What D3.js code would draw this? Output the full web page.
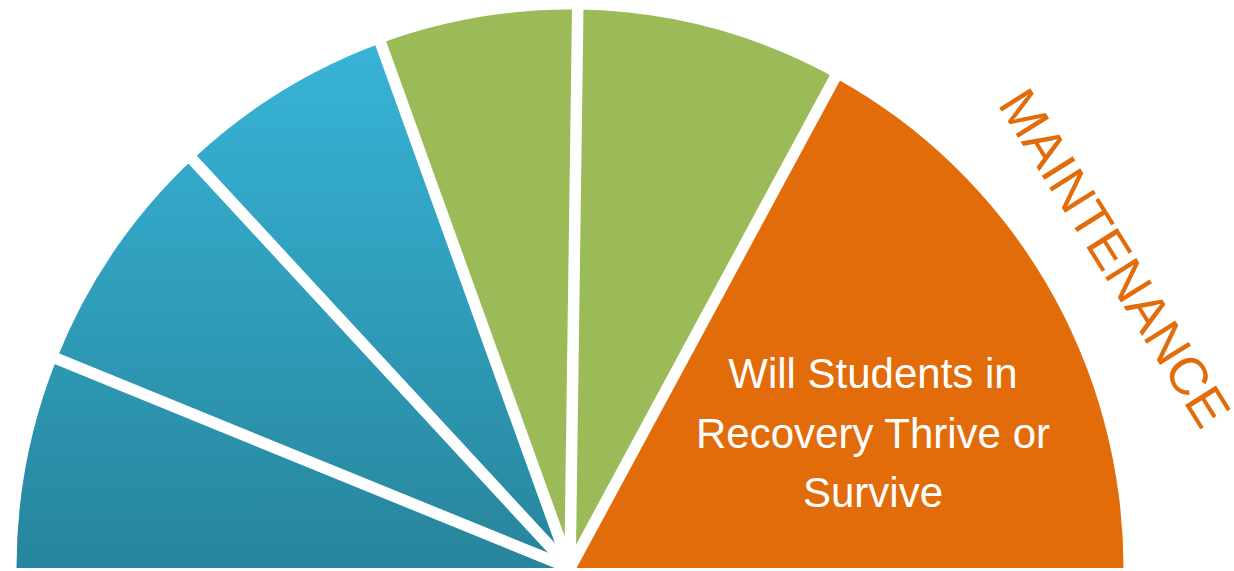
<!DOCTYPE html>
<html>
<head>
<meta charset="utf-8">
<script src="https://cdn.jsdelivr.net/npm/d3@7"></script>
<style>
  html, body { margin: 0; padding: 0; background: #ffffff; }
  svg { display: block; }
</style>
</head>
<body>
<svg id="chart" width="1234" height="571"></svg>
<script>
// ---- data ----
const categories = ["Stage 1", "Stage 2", "Stage 3", "Stage 4", "Stage 5", "Maintenance"];
const values = [22, 25, 23, 20.8, 27.8, 61.4];          // share of the half circle (degrees)
const colorKeys = ["blue", "blue", "blue", "green", "green", "orange"];
const innerLabelLines = ["Will Students in", "Recovery Thrive or", "Survive"];
const outerLabel = ["MAINTENANCE"];

// ---- layout ----
const W = 1234, H = 571;
const cx = 570, cy = 568;
const rx = 553.5, ry = 558.5;
const gap = 11.5;

const palette = { blue: "url(#blueGrad)", green: "#9bbb59", orange: "#e36c0a" };

const svg = d3.select("#chart");
svg.append("rect").attr("width", W).attr("height", H).attr("fill", "#ffffff");

const defs = svg.append("defs");
const grad = defs.append("linearGradient")
  .attr("id", "blueGrad")
  .attr("gradientUnits", "userSpaceOnUse")
  .attr("x1", 0).attr("x2", 0)
  .attr("y1", -rx + 20).attr("y2", 0);
grad.append("stop").attr("offset", "0%").attr("stop-color", "#38b5d9");
grad.append("stop").attr("offset", "100%").attr("stop-color", "#27859c");

const pie = d3.pie().sort(null).value(d => d)
  .startAngle(-Math.PI / 2).endAngle(Math.PI / 2);
const arcs = pie(values);

const arc = d3.arc().innerRadius(0).outerRadius(rx);

const g = svg.append("g")
  .attr("transform", `translate(${cx},${cy}) scale(1,${ry / rx})`);

g.selectAll("path.slice")
  .data(arcs)
  .join("path")
  .attr("class", "slice")
  .attr("d", arc)
  .attr("fill", (d, i) => palette[colorKeys[i]]);

// white separators between slices
const boundaries = arcs.slice(0, -1).map(d => d.endAngle);
g.selectAll("line.sep")
  .data(boundaries)
  .join("line")
  .attr("class", "sep")
  .attr("x1", 0).attr("y1", 0)
  .attr("x2", a => Math.sin(a) * (rx + 20))
  .attr("y2", a => -Math.cos(a) * (rx + 20))
  .attr("stroke", "#ffffff")
  .attr("stroke-width", gap)
  .attr("stroke-linecap", "butt");

// label inside the maintenance slice
const fontFam = "'Liberation Sans', Arial, Helvetica, sans-serif";
svg.append("text")
  .attr("x", 873)
  .attr("y", 388)
  .attr("text-anchor", "middle")
  .attr("fill", "#ffffff")
  .attr("font-family", fontFam)
  .attr("font-size", 42)
  .selectAll("tspan")
  .data(innerLabelLines)
  .join("tspan")
  .attr("x", 873)
  .attr("dy", (d, i) => i === 0 ? 0 : 59.5)
  .text(d => d);

// outer rotated label
svg.selectAll("text.outer")
  .data(outerLabel)
  .join("text")
  .attr("class", "outer")
  .attr("transform", "translate(997,104) rotate(58)")
  .attr("fill", "#e36c0a")
  .attr("font-family", fontFam)
  .attr("font-size", 53)
  .text(d => d);
</script>
</body>
</html>
